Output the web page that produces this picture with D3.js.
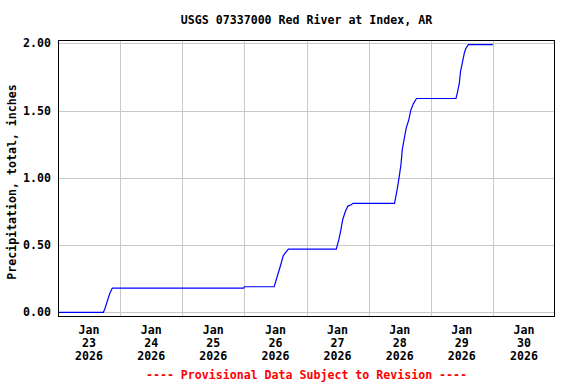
<!DOCTYPE html>
<html>
<head>
<meta charset="utf-8">
<script src="https://cdn.jsdelivr.net/npm/d3@7"></script>
<style>
  body { margin: 0; background: #fff; }
  svg text { font-family: "DejaVu Sans Mono", monospace; font-weight: bold; font-size: 11.6px; }
</style>
</head>
<body>
<script>
// precipitation readings, Jan 23 - Jan 30 2026
const times = [
  "2026-01-23T00:00", "2026-01-23T17:30", "2026-01-23T18:00", "2026-01-23T19:00",
  "2026-01-23T20:00", "2026-01-23T21:00", "2026-01-25T23:45", "2026-01-26T00:00",
  "2026-01-26T11:30", "2026-01-26T12:45", "2026-01-26T14:00", "2026-01-26T15:00",
  "2026-01-26T15:45", "2026-01-26T17:00", "2026-01-27T11:30", "2026-01-27T12:30",
  "2026-01-27T13:15", "2026-01-27T14:00", "2026-01-27T15:00", "2026-01-27T16:00",
  "2026-01-27T17:15", "2026-01-27T18:00", "2026-01-28T10:00", "2026-01-28T11:00",
  "2026-01-28T11:45", "2026-01-28T12:30", "2026-01-28T13:00", "2026-01-28T13:45",
  "2026-01-28T14:30", "2026-01-28T15:30", "2026-01-28T16:15", "2026-01-28T17:15",
  "2026-01-28T18:30", "2026-01-29T09:45", "2026-01-29T10:15", "2026-01-29T11:00",
  "2026-01-29T11:30", "2026-01-29T12:15", "2026-01-29T13:00", "2026-01-29T13:30",
  "2026-01-29T14:30", "2026-01-30T00:00"
];
const precip = [
  0.00, 0.00, 0.02, 0.08,
  0.14, 0.18, 0.18, 0.19,
  0.19, 0.27, 0.35, 0.42,
  0.44, 0.47, 0.47, 0.54,
  0.61, 0.69, 0.75, 0.79,
  0.80, 0.81, 0.81, 0.91,
  1.00, 1.10, 1.21, 1.29,
  1.37, 1.43, 1.50, 1.55,
  1.59, 1.59, 1.63, 1.70,
  1.79, 1.86, 1.93, 1.96,
  1.99, 1.99
];
const yTicks = [0, 0.5, 1.0, 1.5, 2.0];
const dayLabels = ["2026-01-23", "2026-01-24", "2026-01-25", "2026-01-26",
                   "2026-01-27", "2026-01-28", "2026-01-29", "2026-01-30"];

const title = "USGS 07337000 Red River at Index, AR";
const yTitle = "Precipitation, total, inches";
const footer = "---- Provisional Data Subject to Revision ----";

const W = 576, H = 384;
const m = {left: 58, right: 555, top: 40, bottom: 316};

const parse = d3.timeParse("%Y-%m-%dT%H:%M");
const parseDay = d3.timeParse("%Y-%m-%d");
const data = times.map((t, i) => ({t: parse(t), v: precip[i]}));

const x = d3.scaleTime()
  .domain([parseDay("2026-01-23"), parseDay("2026-01-31")])
  .range([m.left, m.right]);
const y = d3.scaleLinear()
  .domain([-0.0275, 2.025])
  .range([m.bottom, m.top]);

const svg = d3.select("body").append("svg")
  .attr("width", W).attr("height", H);

// grid
const grid = svg.append("g")
  .attr("stroke", "#c8c8c8")
  .attr("stroke-width", 1)
  .attr("shape-rendering", "crispEdges");
grid.selectAll("line.h")
  .data(yTicks)
  .join("line")
  .attr("class", "h")
  .attr("x1", m.left).attr("x2", m.right)
  .attr("y1", d => Math.round(y(d)) + 0.5).attr("y2", d => Math.round(y(d)) + 0.5);
const dayLines = d3.timeDay.range(parseDay("2026-01-24"), parseDay("2026-01-31"));
grid.selectAll("line.v")
  .data(dayLines)
  .join("line")
  .attr("class", "v")
  .attr("y1", m.top).attr("y2", m.bottom)
  .attr("x1", d => Math.round(x(d)) + 0.5).attr("x2", d => Math.round(x(d)) + 0.5);

// data line
const line = d3.line().x(d => x(d.t)).y(d => y(d.v));
svg.append("path")
  .datum(data)
  .attr("fill", "none")
  .attr("stroke", "#0000ff")
  .attr("stroke-width", 1.2)
  .attr("d", line);

// frame
svg.append("rect")
  .attr("x", m.left + 0.5).attr("y", m.top + 0.5)
  .attr("width", m.right - m.left - 1).attr("height", m.bottom - m.top)
  .attr("fill", "none")
  .attr("stroke", "#000")
  .attr("stroke-width", 1)
  .attr("shape-rendering", "crispEdges");

// y tick labels
svg.append("g").selectAll("text")
  .data(yTicks)
  .join("text")
  .attr("x", m.left - 7)
  .attr("y", d => y(d))
  .attr("dy", "0.35em")
  .attr("text-anchor", "end")
  .text(d => d.toFixed(2));

// x tick labels at midday
const fmtMon = d3.timeFormat("%b"), fmtDay = d3.timeFormat("%d"), fmtYr = d3.timeFormat("%Y");
const xl = svg.append("g").selectAll("text")
  .data(dayLabels.map(parseDay))
  .join("text")
  .attr("text-anchor", "middle")
  .attr("transform", d => `translate(${x(d3.timeHour.offset(d, 12))},0)`);
xl.append("tspan").attr("x", 0).attr("y", 334).text(fmtMon);
xl.append("tspan").attr("x", 0).attr("y", 347).text(fmtDay);
xl.append("tspan").attr("x", 0).attr("y", 360).text(fmtYr);

// titles
svg.append("text")
  .attr("x", (m.left + m.right) / 2).attr("y", 24)
  .attr("text-anchor", "middle")
  .text(title);
svg.append("text")
  .attr("transform", `translate(16,${(m.top + m.bottom) / 2 + 4}) rotate(-90)`)
  .attr("text-anchor", "middle")
  .text(yTitle);
svg.append("text")
  .attr("x", (m.left + m.right) / 2).attr("y", 379)
  .attr("text-anchor", "middle")
  .attr("fill", "#ff0000")
  .text(footer);
</script>
</body>
</html>
